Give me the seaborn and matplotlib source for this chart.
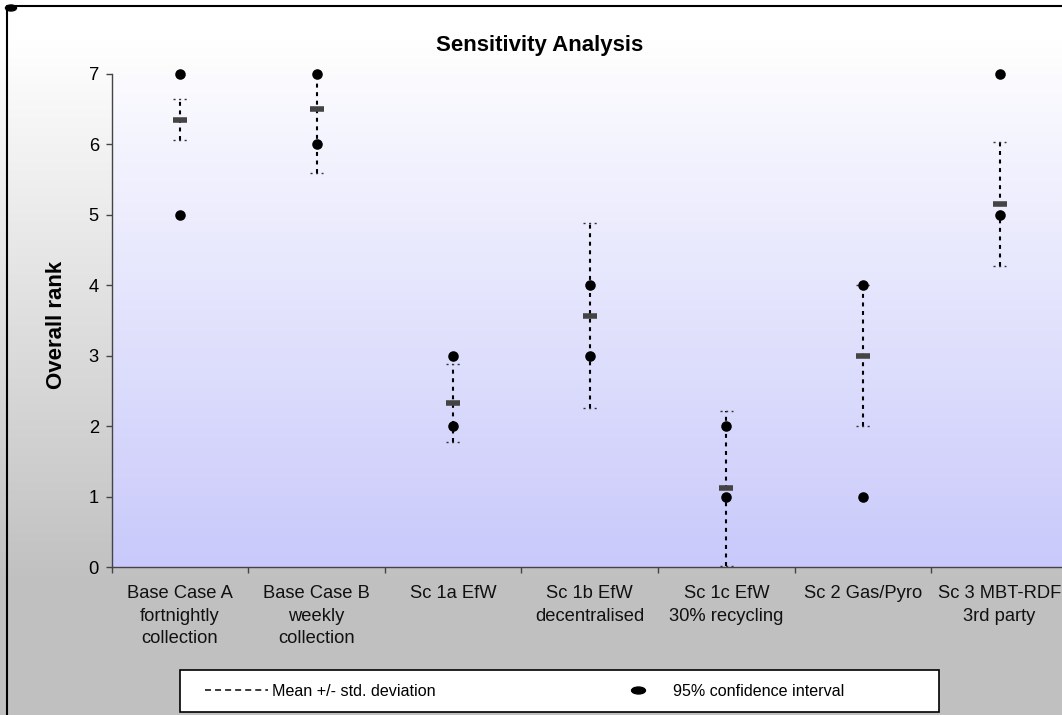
import numpy as np
import pandas as pd
import matplotlib
matplotlib.use("Agg")
import matplotlib.pyplot as plt
import seaborn as sns
from matplotlib.lines import Line2D
from matplotlib.patches import Rectangle, Ellipse
from matplotlib.path import Path

# ---------------- data ----------------
scenarios = [
    "Base Case A\nfortnightly\ncollection",
    "Base Case B\nweekly\ncollection",
    "Sc 1a EfW",
    "Sc 1b EfW\ndecentralised",
    "Sc 1c EfW\n30% recycling",
    "Sc 2 Gas/Pyro",
    "Sc 3 MBT-RDF\n3rd party",
]
ci_low = [5, 6, 2, 3, 1, 1, 5]
ci_high = [7, 7, 3, 4, 2, 4, 7]
means = [6.35, 6.50, 2.33, 3.57, 1.12, 3.00, 5.15]
stds = [0.29, 0.90, 0.55, 1.31, 1.10, 1.00, 0.88]
y_ticks = [0, 1, 2, 3, 4, 5, 6, 7]

title = "Sensitivity Analysis"
y_label = "Overall rank"
legend_labels = ["Mean +/- std. deviation", "95% confidence interval"]

# ---------------- style ----------------
sns.set_style("ticks")
plt.rcParams["font.family"] = ["Liberation Sans", "DejaVu Sans"]
plt.rcParams["text.color"] = "black"

W, H = 1062, 715
fig = plt.figure(figsize=(W / 100, H / 100), dpi=100)

def fx(px):
    return px / W

def fy(py):
    return 1 - py / H

# figure background gradient (white -> grey)
rows = np.arange(H)
t = np.clip((rows - 40) / (585 - 40), 0, 1)
g = 255 - t * (255 - 192)
bg_img = np.stack([g, g, g], axis=-1)[:, None, :] / 255.0
bg = fig.add_axes([0, 0, 1, 1], zorder=-10)
bg.imshow(bg_img, extent=[0, 1, 0, 1], aspect="auto", origin="upper")
bg.axis("off")

# axes geometry
ax_left, ax_right = 111.7, 111.7 + 7 * 136.6
ax_top, ax_bot = 74, 567
rect = [fx(ax_left), fy(ax_bot), fx(ax_right - ax_left), (ax_bot - ax_top) / H]

# plot area gradient (white -> lavender)
pg = fig.add_axes(rect, zorder=-5)
n = 256
tt = np.linspace(0, 1, n)
top_c = np.array([251, 251, 255]) / 255
bot_c = np.array([201, 201, 251]) / 255
pg_img = (top_c[None, :] * (1 - tt[:, None]) + bot_c[None, :] * tt[:, None])[:, None, :]
pg.imshow(pg_img, extent=[0, 1, 0, 1], aspect="auto", origin="upper")
pg.axis("off")

ax = fig.add_axes(rect, zorder=1)
ax.set_facecolor("none")

# CI points
df_ci = pd.DataFrame({
    "scenario": scenarios * 2,
    "rank": ci_low + ci_high,
})
sns.stripplot(data=df_ci, x="scenario", y="rank", order=scenarios, jitter=False,
              color="black", size=7.6, linewidth=0, ax=ax, zorder=5)
for c in ax.collections:
    c.set_clip_on(False)

# mean +/- std dotted bars
xpos = np.arange(len(scenarios))
dot_ls = (0, (1.9, 2.2))
eb = ax.errorbar(xpos, means, yerr=stds, fmt="none", ecolor="black", elinewidth=1.5,
                 capsize=0, zorder=3)
for lc in eb[2]:
    lc.set_linestyle(dot_ls)
lo = np.array(means) - np.array(stds)
hi = np.array(means) + np.array(stds)
ax.hlines(lo, xpos - 0.05, xpos + 0.05, colors="#333333", linewidth=1.0,
          linestyles=(0, (1.5, 2.5)), zorder=3)
ax.hlines(hi, xpos - 0.05, xpos + 0.05, colors="#333333", linewidth=1.0,
          linestyles=(0, (1.5, 2.5)), zorder=3)
# mean markers
ax.plot(xpos, means, ls="none", marker="_", ms=10, mew=4, color="#444444", zorder=4)

ax.set_xlim(-0.5, len(scenarios) - 0.5)
ax.set_ylim(0, 7)
ax.set_xlabel("")
ax.set_ylabel("")

spine_c = "#444444"
for s in ["top", "right"]:
    ax.spines[s].set_visible(False)
for s in ["left", "bottom"]:
    ax.spines[s].set_color(spine_c)
    ax.spines[s].set_linewidth(1.0)

ax.set_yticks(y_ticks)
ax.set_yticklabels([str(v) for v in y_ticks])
ax.tick_params(axis="y", length=4.3, width=1, color=spine_c, pad=5.0,
               labelsize=13.2, labelcolor="black")
ax.set_xticks(xpos)
ax.set_xticklabels(scenarios, fontsize=13.2, linespacing=1.42)
ax.set_xticks(np.arange(-0.5, len(scenarios)), minor=True)
ax.tick_params(axis="x", which="major", length=0, pad=13, labelcolor="#111111")
ax.tick_params(axis="x", which="minor", length=4.3, width=1, color=spine_c)

# title & y label
fig.text(fx(540), fy(46), title, ha="center", va="center", fontsize=16,
         fontweight="bold", color="black")
fig.text(fx(57), fy(325), y_label, ha="center", va="center", rotation=90,
         fontsize=16, fontweight="bold", color="black")

# legend box
fig.add_artist(Rectangle((fx(180), fy(712)), fx(939 - 180), (712 - 670) / H,
                         transform=fig.transFigure, facecolor="white",
                         edgecolor="black", linewidth=1.2, zorder=2))
ell = Path.unit_circle()
ell = Path(ell.vertices * np.array([1.0, 0.5]), ell.codes)
handles = [
    Line2D([], [], color="black", lw=1.08, ls=(0, (4, 2.7))),
    Line2D([], [], ls="none", marker=ell, ms=10, color="black"),
]
leg = fig.legend(handles, legend_labels, loc="center left",
                 bbox_to_anchor=(fx(205), fy(691)), ncol=2, frameon=False,
                 handlelength=3.9, handletextpad=0.25, columnspacing=10.6,
                 borderpad=0, borderaxespad=0, fontsize=11.6)
for txt in leg.get_texts():
    txt.set_color("black")
leg.set_zorder(3)

# chart border (left / top) and corner handle
fig.add_artist(Line2D([fx(7), fx(7), 1.0], [0, fy(6), fy(6)],
                      transform=fig.transFigure, color="black", lw=1.5))
fig.add_artist(Ellipse((fx(11), fy(8)), fx(11), 6 / H, transform=fig.transFigure,
                       color="black"))

fig.savefig("out.png", dpi=100)
